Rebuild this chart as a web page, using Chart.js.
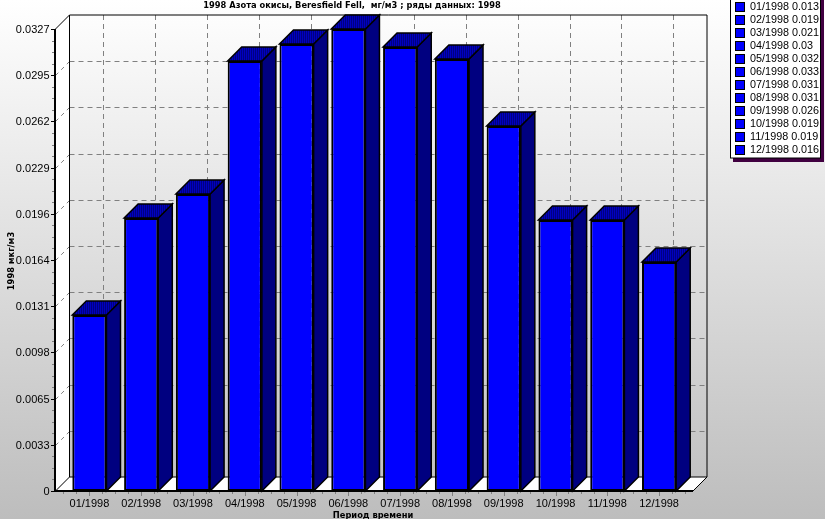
<!DOCTYPE html>
<html>
<head>
<meta charset="utf-8">
<style>
  html, body { margin: 0; padding: 0; background: #fff; overflow: hidden; }
  canvas { display: block; }
</style>
<script src="https://cdn.jsdelivr.net/npm/chart.js@4/dist/chart.umd.min.js"></script>
</head>
<body>
<div style="width:825px;height:519px"><canvas id="chart"></canvas></div>
<script>
const months = ['01/1998', '02/1998', '03/1998', '04/1998', '05/1998', '06/1998',
  '07/1998', '08/1998', '09/1998', '10/1998', '11/1998', '12/1998']
const values = [0.01246, 0.01932, 0.02102, 0.03044, 0.03164, 0.0327,
  0.03143, 0.03058, 0.02583, 0.01918, 0.01918, 0.01621]
const legendValues = ['0.013', '0.019', '0.021', '0.03', '0.032', '0.033',
  '0.031', '0.031', '0.026', '0.019', '0.019', '0.016']
const yTicks = [0, 0.0033, 0.0065, 0.0098, 0.0131, 0.0164, 0.0196, 0.0229, 0.0262, 0.0295, 0.0327]

const titleText = '1998 Азота окисы, Beresfield Fell,  мг/м3 ; ряды данных: 1998'
const yTitle = '1998 мкг/м3'
const xTitle = 'Период времени'

const DEPTH = 14
const FONT = "'Liberation Sans', Arial, sans-serif"
const SMALL_BOLD = "bold 8.3px 'DejaVu Sans', sans-serif"

// evenly spaced tick positions, the labels above are rounded
const tickPixel = (y, i) => y.bottom - (i * (y.bottom - y.top)) / (yTicks.length - 1)

function poly(ctx, pts, fill, stroke, lineWidth) {
  ctx.beginPath()
  pts.forEach((p, i) => (i ? ctx.lineTo(p[0], p[1]) : ctx.moveTo(p[0], p[1])))
  ctx.closePath()
  if (fill) {
    ctx.fillStyle = fill
    ctx.fill()
  }
  if (stroke) {
    ctx.strokeStyle = stroke
    ctx.lineWidth = lineWidth || 1
    ctx.stroke()
  }
}

function line(ctx, x1, y1, x2, y2, color, width, dash) {
  ctx.save()
  ctx.beginPath()
  ctx.setLineDash(dash || [])
  ctx.strokeStyle = color
  ctx.lineWidth = width || 1
  ctx.moveTo(x1, y1)
  ctx.lineTo(x2, y2)
  ctx.stroke()
  ctx.restore()
}

function topPattern(ctx) {
  const c = document.createElement('canvas')
  c.width = 2
  c.height = 2
  const p = c.getContext('2d')
  p.fillStyle = '#000080'
  p.fillRect(0, 0, 2, 2)
  p.fillStyle = '#0000c0'
  p.fillRect(0, 0, 1, 2)
  return ctx.createPattern(c, 'repeat')
}

const background = {
  id: 'background',
  beforeDraw(chart) {
    const { ctx, width, height } = chart
    const g = ctx.createLinearGradient(0, 0, 0, height)
    g.addColorStop(0, '#ffffff')
    g.addColorStop(1, '#bdbdbd')
    ctx.fillStyle = g
    ctx.fillRect(0, 0, width, height)
  },
}

const box3d = {
  id: 'box3d',
  beforeDatasetsDraw(chart) {
    const { ctx, scales: { x, y } } = chart
    const left = 55.5
    const right = 693
    const top = y.top
    const bottom = y.bottom

    // left wall and floor
    poly(ctx, [[left, top], [left + DEPTH, top - DEPTH], [left + DEPTH, bottom - DEPTH], [left, bottom]], '#ffffff')
    poly(ctx, [[left, bottom], [left + DEPTH, bottom - DEPTH], [right + DEPTH, bottom - DEPTH], [right, bottom]], '#ffffff')

    // dashed grid on the back wall and left wall
    yTicks.forEach((v, i) => {
      const py = Math.round(tickPixel(y, i)) + 0.5
      if (i > 0 && i < yTicks.length - 1) {
        line(ctx, left + DEPTH, py - DEPTH, right + DEPTH, py - DEPTH, '#808080', 1, [5, 4])
        line(ctx, left, py, left + DEPTH, py - DEPTH, '#808080', 1, [4, 4])
      }
    })
    months.forEach((m, i) => {
      const px = Math.round(x.getPixelForValue(i)) + DEPTH + 0.5
      line(ctx, px, top - DEPTH, px, bottom - DEPTH, '#808080', 1, [5, 4])
    })

    // wall edges
    line(ctx, left + DEPTH, top - DEPTH, right + DEPTH, top - DEPTH, '#000000', 1)
    line(ctx, left + DEPTH, top - DEPTH, left + DEPTH, bottom - DEPTH, '#000000', 1)
    line(ctx, right + DEPTH, top - DEPTH, right + DEPTH, bottom - DEPTH, '#000000', 1)
    line(ctx, left + DEPTH, bottom - DEPTH, right + DEPTH, bottom - DEPTH, '#000000', 1)
    line(ctx, left, top, left + DEPTH, top - DEPTH, '#000000', 1)
    line(ctx, left, bottom, left + DEPTH, bottom - DEPTH, '#000000', 1)
    line(ctx, right, bottom, right + DEPTH, bottom - DEPTH, '#000000', 1)

    // side and top faces of the bars
    const pattern = topPattern(ctx)
    chart.getDatasetMeta(0).data.forEach((bar) => {
      const { x: cx, y: by, base, width } = bar.getProps(['x', 'y', 'base', 'width'], true)
      const l = cx - width / 2
      const r = cx + width / 2
      poly(ctx, [[r, by], [r + DEPTH, by - DEPTH], [r + DEPTH, base - DEPTH], [r, base]], '#000080', '#000000', 1.5)
      poly(ctx, [[l, by], [l + DEPTH, by - DEPTH], [r + DEPTH, by - DEPTH], [r, by]], pattern, '#000000', 1.5)
    })
  },
  afterDatasetsDraw(chart) {
    const { ctx, scales: { x, y } } = chart
    const axisX = 55
    const bottom = y.bottom

    // axes
    line(ctx, axisX, y.top, axisX, bottom + 1, '#000000', 2)
    line(ctx, axisX, bottom, 693, bottom, '#000000', 2)

    // y ticks: major with four minor between
    const step = (y.bottom - y.top) / (yTicks.length - 1)
    for (let i = 0; i < yTicks.length; i++) {
      const py = Math.round(tickPixel(y, i)) + 0.5
      line(ctx, axisX - 4, py, axisX - 1, py, '#000000', 1)
      if (i < yTicks.length - 1) {
        for (let k = 1; k < 4; k++) {
          const my = Math.round(tickPixel(y, i) - (k * step) / 4) + 0.5
          line(ctx, axisX - 3, my, axisX - 1, my, '#808080', 1)
        }
      }
    }

    // x ticks: major at the category, minor either side
    const cat = x.getPixelForValue(1) - x.getPixelForValue(0)
    months.forEach((m, i) => {
      const px = x.getPixelForValue(i)
      line(ctx, Math.round(px) + 0.5, bottom + 1, Math.round(px) + 0.5, bottom + 5, '#808080', 1)
      ;[-0.5, -0.25, 0.25, 0.5].forEach((f) => {
        const mx = Math.round(px + f * cat) + 0.5
        line(ctx, mx, bottom + 1, mx, bottom + 3, '#808080', 1)
      })
    })
  },
}

const texts = {
  id: 'texts',
  afterDraw(chart) {
    const { ctx } = chart
    ctx.save()
    ctx.fillStyle = '#000000'
    ctx.textBaseline = 'middle'
    ctx.textAlign = 'center'
    ctx.font = SMALL_BOLD
    ctx.fillText(titleText, 352, 5.5)
    ctx.fillText(xTitle, 373, 515.5)
    ctx.translate(12, 261)
    ctx.rotate(-Math.PI / 2)
    ctx.fillText(yTitle, 0, 0)
    ctx.restore()

    // legend box, runs off the top of the picture
    ctx.save()
    ctx.fillStyle = '#400040'
    ctx.fillRect(733, 0, 91, 162)
    ctx.fillStyle = '#ffffff'
    ctx.fillRect(730.5, -2, 90, 160)
    ctx.strokeStyle = '#000000'
    ctx.lineWidth = 1
    ctx.strokeRect(730.5, -2, 90, 160)
    ctx.font = '10.8px ' + FONT
    ctx.textAlign = 'left'
    ctx.textBaseline = 'middle'
    months.forEach((m, i) => {
      const cy = 7 + i * 13
      ctx.fillStyle = '#0000ff'
      ctx.fillRect(735.5, cy - 4.5, 9, 9)
      ctx.strokeRect(735.5, cy - 4.5, 9, 9)
      ctx.fillStyle = '#000000'
      ctx.fillText(m + ' ' + legendValues[i], 750, cy + 0.5)
    })
    ctx.restore()
  },
}

new Chart(document.getElementById('chart'), {
  type: 'bar',
  data: {
    labels: months,
    datasets: [{
      data: values,
      backgroundColor: '#0000ff',
      borderColor: '#000000',
      borderWidth: 2,
      borderSkipped: false,
      barPercentage: 0.66,
      categoryPercentage: 1,
    }],
  },
  options: {
    responsive: true,
    maintainAspectRatio: false,
    animation: false,
    layout: { padding: { left: 0, right: 140, top: 29, bottom: 0 } },
    plugins: { legend: { display: false }, tooltip: { enabled: false } },
    scales: {
      x: {
        grid: { display: false, drawTicks: false },
        border: { display: false },
        afterFit(scale) { scale.height = 28 },
        ticks: { color: '#000000', font: { family: FONT, size: 11 }, padding: 6, maxRotation: 0, autoSkip: false },
      },
      y: {
        min: 0,
        max: 0.0327,
        grid: { display: false, drawTicks: false },
        border: { display: false },
        afterFit(scale) { scale.width = 63.5 },
        afterBuildTicks(scale) {
          scale.ticks = yTicks.map((v, i) => ({ value: (i * 0.0327) / (yTicks.length - 1), label: String(v) }))
        },
        ticks: {
          color: '#000000',
          font: { family: FONT, size: 11 },
          padding: 14,
          labelOffset: 1,
          autoSkip: false,
          callback(v, i) { return String(yTicks[i]) },
        },
      },
    },
  },
  plugins: [background, box3d, texts],
})
</script>
</body>
</html>
